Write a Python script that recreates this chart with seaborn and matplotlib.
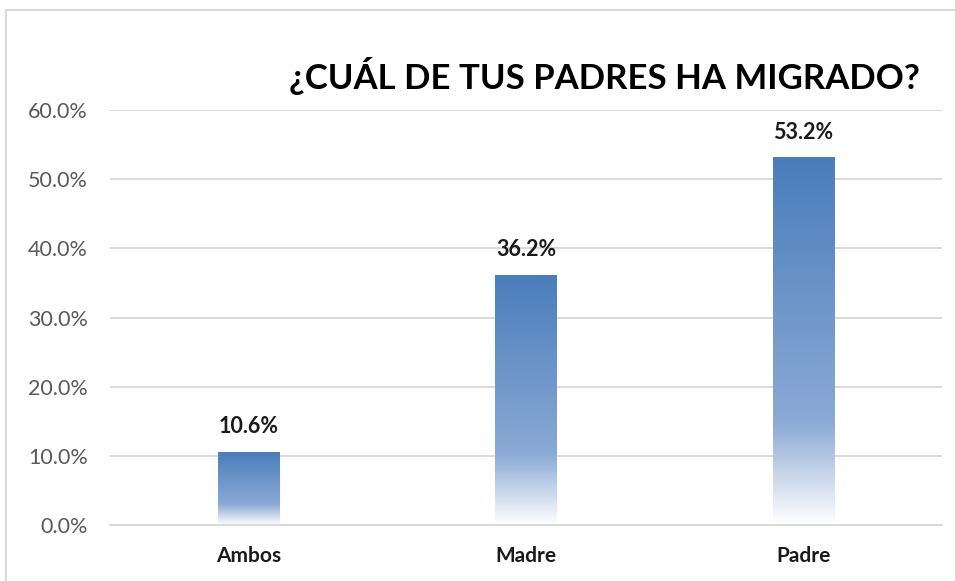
import numpy as np
import pandas as pd
import matplotlib
matplotlib.use("Agg")
import matplotlib.pyplot as plt
from matplotlib.colors import LinearSegmentedColormap
from matplotlib.patches import Rectangle
import seaborn as sns

categorias = ["Ambos", "Madre", "Padre"]
porcentajes = [10.6, 36.2, 53.2]
ticks_y = [0, 10, 20, 30, 40, 50, 60]
titulo = "¿CUÁL DE TUS PADRES HA MIGRADO?"

df = pd.DataFrame({"categoria": categorias, "pct": porcentajes})

sns.set_theme(style="white")
plt.rcParams["font.family"] = ["Lato", "DejaVu Sans"]

fig = plt.figure(figsize=(9.55, 5.81), dpi=100)
ax = fig.add_axes([110 / 955, 1 - 525 / 581, 832 / 955, 415 / 581])

sns.barplot(data=df, x="categoria", y="pct", ax=ax, width=0.22,
            color="#4F81BD", edgecolor="none")

# gradient fill: dark blue at top -> lighter -> white at base
cmap = LinearSegmentedColormap.from_list(
    "grad", [(0.0, "#4A7DBB"), (0.72, "#8BAAD5"), (1.0, "#FFFFFF")])
grad = np.linspace(0, 1, 256).reshape(-1, 1)
for bar in ax.patches:
    x0, y0 = bar.get_x(), bar.get_y()
    w, h = bar.get_width(), bar.get_height()
    im = ax.imshow(grad, cmap=cmap, aspect="auto", origin="upper",
                   extent=[x0, x0 + w, y0, y0 + h], zorder=bar.get_zorder() + 0.1)
    im.set_clip_path(bar)
    ax.annotate(f"{h:.1f}%", (x0 + w / 2, y0 + h), xytext=(0, 18),
                textcoords="offset points", ha="center", va="center",
                fontsize=15.5, fontweight="bold", color="#1a1a1a")

ax.set_xlim(-0.5, 2.5)
ax.set_ylim(0, 60)
ax.set_yticks(ticks_y)
ax.set_yticklabels([f"{t:.1f}%" for t in ticks_y])
ax.yaxis.grid(True, color="#D9D9D9", linewidth=1.4)
ax.set_axisbelow(True)
for s in ["left", "right", "top"]:
    ax.spines[s].set_visible(False)
ax.spines["bottom"].set_color("#D9D9D9")
ax.spines["bottom"].set_linewidth(1.4)
ax.tick_params(axis="y", length=0, pad=16, labelsize=15.5, labelcolor="#595959")
ax.tick_params(axis="x", length=0, pad=15, labelsize=15)
for lbl in ax.get_xticklabels():
    lbl.set_fontweight("bold")
    lbl.set_color("#1a1a1a")
ax.set_xlabel("")
ax.set_ylabel("")

fig.text(604 / 955, 1 - 76 / 581, titulo, ha="center", va="center",
         fontsize=25, fontweight="bold", color="#000000")

# chart border
fig.patches.append(Rectangle((6 / 955, -0.05), 1.0, 1 - 10 / 581 + 0.05,
                             transform=fig.transFigure, fill=False,
                             edgecolor="#D9D9D9", linewidth=1.5))

fig.savefig("out.png", dpi=100)
